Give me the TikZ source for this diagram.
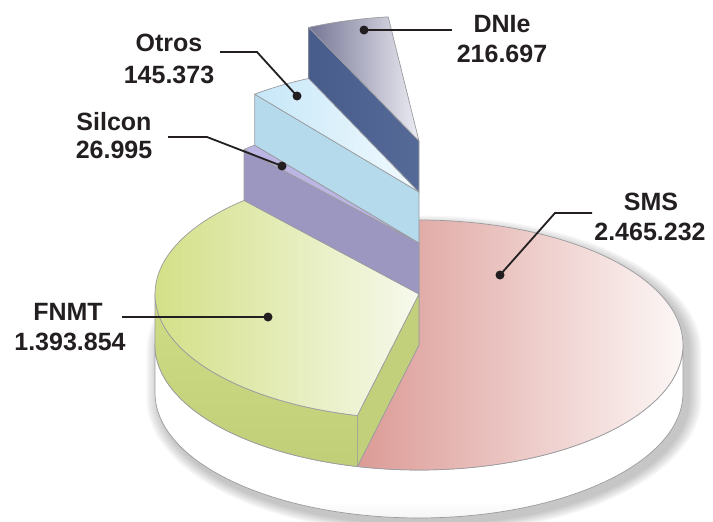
\documentclass[tikz,border=0pt]{standalone}
\usepackage{fontspec}
\setmainfont{Liberation Sans}
\definecolor{ink}{RGB}{35,31,32}
\definecolor{edge}{RGB}{155,155,160}
\definecolor{smsL}{RGB}{220,155,150}
\definecolor{smsR}{RGB}{252,247,246}
\definecolor{fnL}{RGB}{212,224,136}
\definecolor{fnR}{RGB}{246,249,236}
\definecolor{fnSideT}{RGB}{216,228,142}
\definecolor{fnSideB}{RGB}{184,199,112}
\definecolor{fnFace}{RGB}{194,208,124}
\definecolor{siFace}{RGB}{156,151,193}
\definecolor{siTop}{RGB}{186,181,226}
\definecolor{otFace}{RGB}{180,218,236}
\definecolor{otL}{RGB}{198,231,248}
\definecolor{otR}{RGB}{242,250,254}
\definecolor{dnFaceL}{RGB}{72,92,140}
\definecolor{dnFaceR}{RGB}{86,106,152}
\definecolor{dnL}{RGB}{118,118,150}
\definecolor{dnR}{RGB}{236,236,243}
\definecolor{baseB}{RGB}{196,196,202}
\pgfdeclareverticalshading{baseshade}{100bp}{color(0bp)=(baseB); color(12bp)=(baseB!60!white); color(30bp)=(white); color(100bp)=(white)}
\pgfdeclareverticalshading{fnsideshade}{100bp}{color(0bp)=(fnSideB); color(30bp)=(fnSideB!70!fnSideT); color(100bp)=(fnSideT)}
\def\CX{419}
\def\RX{264}
\def\RY{125}
\tikzset{
  face/.style={draw=edge, line width=0.7pt, line join=round},
  lbl/.style={font=\bfseries\fontsize{25}{30}\selectfont, text=ink, inner sep=0pt, anchor=base},
  leader/.style={draw=ink, line width=1.8pt},
  dotnode/.style={circle, fill=ink, inner sep=0pt, minimum size=9pt}
}
\begin{document}
\begin{tikzpicture}[x=1pt,y=-1pt]
\useasboundingbox (0,0) rectangle (713,522);
% soft shadow
\foreach \k in {1,...,8}{
  \fill[black, opacity=0.03]
    plot[domain=0:180, samples=60] ({\CX+5+(\RX+\k*1.7)*cos(\x)},{351-(\RY+\k*1.3)*sin(\x)})
    -- plot[domain=180:360, samples=60] ({\CX+5+(\RX+\k*1.7)*cos(\x)},{399-(\RY+\k*1.3)*sin(\x)})
    -- cycle;
}
% white base side
\path[face, shading=baseshade]
  plot[domain=180:360, samples=80] ({\CX+\RX*cos(\x)},{345-\RY*sin(\x)})
  -- plot[domain=360:180, samples=80] ({\CX+\RX*cos(\x)},{393-\RY*sin(\x)})
  -- cycle;
% SMS top
\path[face, left color=smsL, right color=smsR]
  (\CX,345) -- plot[domain=-103.5:90, samples=100] ({\CX+\RX*cos(\x)},{345-\RY*sin(\x)}) -- cycle;
% FNMT outer side
\path[face, shading=fnsideshade]
  plot[domain=180:256.5, samples=60] ({\CX+\RX*cos(\x)},{294-\RY*sin(\x)})
  -- plot[domain=256.5:180, samples=60] ({\CX+\RX*cos(\x)},{345-\RY*sin(\x)})
  -- cycle;
% FNMT radial face
\path[face, fill=fnFace]
  (\CX,294) -- ({\CX+\RX*cos(256.5)},{294-\RY*sin(256.5)})
  -- ({\CX+\RX*cos(256.5)},{345-\RY*sin(256.5)}) -- (\CX,345) -- cycle;
% FNMT top
\path[face, left color=fnL, right color=fnR]
  (\CX,294) -- plot[domain=131.5:256.5, samples=80] ({\CX+\RX*cos(\x)},{294-\RY*sin(\x)}) -- cycle;
% Silcon face
\path[face, fill=siFace]
  (\CX,243) -- ({\CX+\RX*cos(131.5)},{243-\RY*sin(131.5)})
  -- ({\CX+\RX*cos(131.5)},{294-\RY*sin(131.5)}) -- (\CX,294) -- cycle;
% Silcon top
\path[face, fill=siTop]
  (\CX,243) -- plot[domain=128.5:131.5, samples=5] ({\CX+\RX*cos(\x)},{243-\RY*sin(\x)}) -- cycle;
% Otros face
\path[face, fill=otFace]
  (\CX,192) -- ({\CX+\RX*cos(128.5)},{192-\RY*sin(128.5)})
  -- ({\CX+\RX*cos(128.5)},{243-\RY*sin(128.5)}) -- (\CX,243) -- cycle;
% Otros top
\path[face, left color=otL, right color=otR]
  (\CX,192) -- plot[domain=114.7:128.5, samples=12] ({\CX+\RX*cos(\x)},{192-\RY*sin(\x)}) -- cycle;
% DNIe face
\path[face, left color=dnFaceL, right color=dnFaceR]
  (\CX,141) -- ({\CX+\RX*cos(114.7)},{141-\RY*sin(114.7)})
  -- ({\CX+\RX*cos(114.7)},{192-\RY*sin(114.7)}) -- (\CX,192) -- cycle;
% DNIe top
\path[face, left color=dnL, right color=dnR]
  (\CX,141) -- plot[domain=96.7:114.7, samples=14] ({\CX+\RX*cos(\x)},{141-\RY*sin(\x)}) -- cycle;

% labels
\node[lbl] (smsname) at (651,210) {SMS};
\node[lbl] (smsval) at (650,240) {2.465.232};
\node[lbl] (fnname) at (68,320) {FNMT};
\node[lbl] (fnval) at (70,350) {1.393.854};
\node[lbl] (siname) at (114,130) {Silcon};
\node[lbl] (sival) at (114,158) {26.995};
\node[lbl] (otname) at (169,52) {Otros};
\node[lbl] (otval) at (169,83) {145.373};
\node[lbl] (dnname) at (502,32) {DNIe};
\node[lbl] (dnval) at (502,62) {216.697};

% dots
\node[dotnode] (smsdot) at (500,275) {};
\node[dotnode] (fndot) at (268,317) {};
\node[dotnode] (sidot) at (282,166) {};
\node[dotnode] (otdot) at (297,96) {};
\node[dotnode] (dndot) at (364,30) {};

% leader anchors
\coordinate (smsstart) at (592,213);
\coordinate (smselbow) at (555,213);
\coordinate (fnstart) at (122,317);
\coordinate (sistart) at (168,137);
\coordinate (sielbow) at (207,137);
\coordinate (otstart) at (220,52);
\coordinate (otelbow) at (257,52);
\coordinate (dnstart) at (452,30);

\draw[leader] (smsstart) -- (smselbow) -- (smsdot.center);
\draw[leader] (fnstart) -- (fndot.center);
\draw[leader] (sistart) -- (sielbow) -- (sidot.center);
\draw[leader] (otstart) -- (otelbow) -- (otdot.center);
\draw[leader] (dnstart) -- (dndot.center);
\end{tikzpicture}
\end{document}
